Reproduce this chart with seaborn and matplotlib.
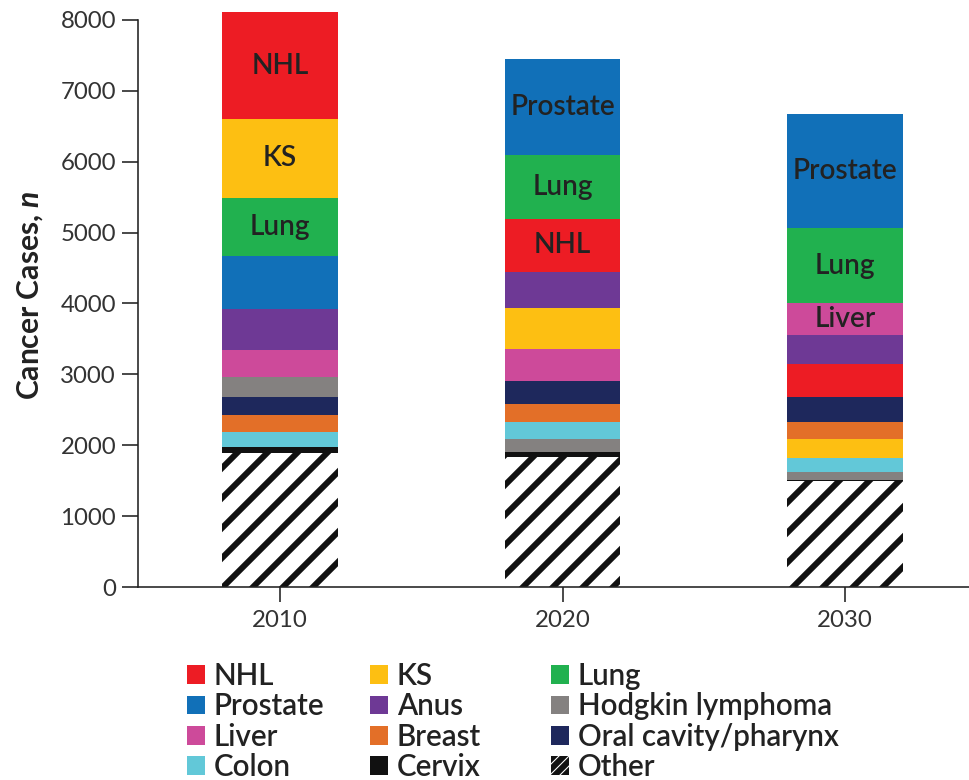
import numpy as np
import pandas as pd
import matplotlib
matplotlib.use("Agg")
import matplotlib.pyplot as plt
import seaborn as sns
from matplotlib.patches import Patch

# ---------------- data ----------------
years = ["2010", "2020", "2030"]
categories = ["NHL", "KS", "Lung", "Prostate", "Anus", "Hodgkin lymphoma",
              "Liver", "Breast", "Oral cavity/pharynx", "Colon", "Cervix", "Other"]
cases_2010 = [1505, 1110, 830, 740, 580, 280, 380, 240, 265, 210, 80, 1890]
cases_2020 = [745, 580, 895, 1365, 515, 190, 455, 255, 315, 235, 70, 1835]
cases_2030 = [470, 270, 1050, 1610, 415, 110, 450, 235, 345, 205, 15, 1495]

# stacking order (bottom -> top) in each year
stack_2010 = ["Other", "Cervix", "Colon", "Breast", "Oral cavity/pharynx", "Hodgkin lymphoma",
              "Liver", "Anus", "Prostate", "Lung", "KS", "NHL"]
stack_2020 = ["Other", "Cervix", "Hodgkin lymphoma", "Colon", "Breast", "Oral cavity/pharynx",
              "Liver", "KS", "Anus", "NHL", "Lung", "Prostate"]
stack_2030 = ["Other", "Cervix", "Hodgkin lymphoma", "Colon", "KS", "Breast",
              "Oral cavity/pharynx", "NHL", "Anus", "Liver", "Lung", "Prostate"]

labelled_2010 = ["NHL", "KS", "Lung"]
labelled_2020 = ["Prostate", "Lung", "NHL"]
labelled_2030 = ["Prostate", "Lung", "Liver"]

y_ticks = [0, 1000, 2000, 3000, 4000, 5000, 6000, 7000, 8000]

colors = {
    "NHL": "#ED1C24", "KS": "#FDBF12", "Lung": "#21B14F", "Prostate": "#1170B8",
    "Anus": "#6E3995", "Hodgkin lymphoma": "#848180", "Liver": "#CD4A9A",
    "Breast": "#E36F28", "Oral cavity/pharynx": "#1E285C", "Colon": "#62C8D8",
    "Cervix": "#111111", "Other": "#FFFFFF",
}

legend_cols = [["NHL", "Prostate", "Liver", "Colon"],
               ["KS", "Anus", "Breast", "Cervix"],
               ["Lung", "Hodgkin lymphoma", "Oral cavity/pharynx", "Other"]]
legend_x_px = [187, 370, 551]

# ---------------- table ----------------
values = {"2010": cases_2010, "2020": cases_2020, "2030": cases_2030}
stacks = {"2010": stack_2010, "2020": stack_2020, "2030": stack_2030}
labelled = {"2010": labelled_2010, "2020": labelled_2020, "2030": labelled_2030}
rows = []
for yr in years:
    v = dict(zip(categories, values[yr]))
    bottom = 0
    for cat in stacks[yr]:
        rows.append(dict(year=yr, category=cat, value=v[cat], bottom=bottom, top=bottom + v[cat]))
        bottom += v[cat]
df = pd.DataFrame(rows)

# ---------------- style ----------------
DPI = 180
def px(p):
    return p * 72.0 / DPI

sns.set_style("ticks")
plt.rcParams["font.family"] = ["Lato", "DejaVu Sans"]
plt.rcParams["mathtext.fontset"] = "custom"
plt.rcParams["mathtext.it"] = "Lato:italic:bold"
plt.rcParams["mathtext.rm"] = "Lato:bold"
plt.rcParams["hatch.linewidth"] = px(6)
plt.rcParams["hatch.color"] = "#111111"

fig = plt.figure(figsize=(969 / DPI, 780 / DPI), dpi=DPI)
ax = fig.add_axes([138 / 969, 193 / 780, 1 - 138 / 969, 567 / 780])

BAR_W = 0.41
for _, r in df.sort_values("top", ascending=False).iterrows():
    sns.barplot(x=[r.year], y=[r.top], order=years, color=colors[r.category],
                width=BAR_W, saturation=1, linewidth=0, errorbar=None,
                clip_on=False, ax=ax)
    if r.category == "Other":
        p = ax.patches[-1]
        p.set_edgecolor("#111111")
        p.set_linewidth(0)
        p.set_hatch("//")

# in-bar labels
for _, r in df.iterrows():
    if r.category in labelled[r.year]:
        ax.text(years.index(r.year), (r.bottom + r.top) / 2, r.category,
                ha="center", va="center", fontsize=px(28), color="#222222",
                fontweight="semibold")

ax.set_xlim(-0.503, 2.439)
ax.set_ylim(0, 8000)
ax.set_yticks(y_ticks)
ax.set_yticklabels([str(t) for t in y_ticks])
ax.set_xlabel("")
ax.set_ylabel("Cancer Cases, $n$", fontsize=px(30), fontweight="bold", color="#222222")
ax.yaxis.set_label_coords(-0.112, 0.515)

for s in ["top", "right"]:
    ax.spines[s].set_visible(False)
for s in ["left", "bottom"]:
    ax.spines[s].set_linewidth(px(1.6))
    ax.spines[s].set_color("#222222")
ax.tick_params(axis="y", length=px(16), width=px(1.6), color="#222222",
               labelsize=px(24), labelcolor="#333333", pad=px(6), direction="out")
ax.tick_params(axis="x", length=px(15), width=px(1.6), color="#222222",
               labelsize=px(24), labelcolor="#333333", pad=px(8), direction="out")

# ---------------- legend ----------------
LFS = px(29.5)
for col, xpx in zip(legend_cols, legend_x_px):
    handles = []
    for cat in col:
        if cat == "Other":
            handles.append(Patch(facecolor="white", edgecolor="#111111", hatch="//////", linewidth=0))
        else:
            handles.append(Patch(facecolor=colors[cat], edgecolor="none", linewidth=0))
    leg = fig.legend(handles, col, loc="upper left",
                     bbox_to_anchor=(xpx / 969, 1 - 662 / 780), bbox_transform=fig.transFigure,
                     frameon=False, borderpad=0, borderaxespad=0,
                     handlelength=0.61, handleheight=0.61, handletextpad=0.3,
                     labelspacing=0.08, fontsize=LFS)
    for t in leg.get_texts():
        t.set_color("#222222")
        t.set_fontweight("semibold")

fig.savefig("out.png", dpi=DPI)
